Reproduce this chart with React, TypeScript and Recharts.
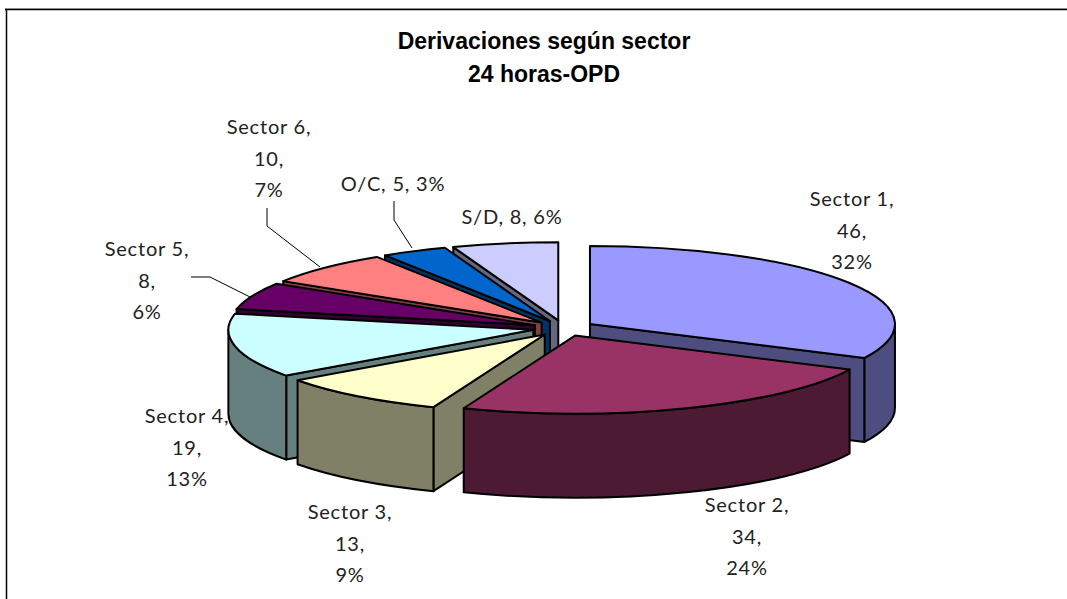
import { PieChart, Pie } from "recharts"

const W = 1067
const H = 599

const names = ["Sector 1", "Sector 2", "Sector 3", "Sector 4", "Sector 5", "Sector 6", "O/C", "S/D"]
const values = [46, 34, 13, 19, 8, 10, 5, 8]
const percents = [32, 24, 9, 13, 6, 7, 3, 6]
const topColors = ["#9999FF", "#993366", "#FFFFCC", "#CCFFFF", "#660066", "#FF8080", "#0066CC", "#CCCCFF"]
const sideColors = ["#4D4D80", "#4D1A33", "#808066", "#668080", "#330033", "#804040", "#003366", "#666680"]
// back to front
const paintOrder = [7, 6, 5, 4, 0, 3, 2, 1]

const data = names.map((name, i) => ({ name, value: values[i] }))

const TILT = 0.256
const DEPTH = 84
const EXPLODE = 31
const rad = (d: number) => (d * Math.PI) / 180

// squashes the sector recharts hands us into a tilted, exploded 3d slice
function slice3d(props: any, index: number) {
  if (props.index !== index) return <g />
  const { cx, cy, outerRadius: r, startAngle, endAngle } = props
  const mid = rad((startAngle + endAngle) / 2)
  const ax = cx + EXPLODE * Math.cos(mid)
  const ay = cy - EXPLODE * Math.sin(mid) * TILT
  const pt = (deg: number, down = 0) =>
    [ax + r * Math.cos(rad(deg)), ay - r * TILT * Math.sin(rad(deg)) + down] as const
  const ry = r * TILT
  const arc = (from: number, to: number, down = 0) => {
    const [x, y] = pt(to, down)
    const large = Math.abs(to - from) > 180 ? 1 : 0
    const sweep = to < from ? 1 : 0
    return `A${r},${ry} 0 ${large} ${sweep} ${x},${y}`
  }
  const [sx, sy] = pt(startAngle)
  const [ex, ey] = pt(endAngle)
  const stroke = { stroke: "#000", strokeWidth: 2, strokeLinejoin: "round" as const }
  const side = sideColors[index]
  const walls = []
  if (sx < ax - 0.5) {
    walls.push(<path key="s" d={`M${ax},${ay}L${sx},${sy}L${sx},${sy + DEPTH}L${ax},${ay + DEPTH}Z`} fill={side} {...stroke} />)
  }
  if (ex > ax + 0.5) {
    walls.push(<path key="e" d={`M${ax},${ay}L${ex},${ey}L${ex},${ey + DEPTH}L${ax},${ay + DEPTH}Z`} fill={side} {...stroke} />)
  }
  // front part of the rim: angles from 0 down to -180
  const a = Math.min(startAngle, 0)
  const b = Math.max(endAngle, -180)
  if (a > b) {
    const [x0, y0] = pt(a)
    const [x1, y1] = pt(b, DEPTH)
    walls.push(
      <path key="rim" d={`M${x0},${y0}${arc(a, b)}L${x1},${y1}${arc(b, a, DEPTH)}Z`} fill={side} {...stroke} />,
    )
  }
  return (
    <g>
      {walls}
      <path d={`M${ax},${ay}L${sx},${sy}${arc(startAngle, endAngle)}Z`} fill={topColors[index]} {...stroke} />
    </g>
  )
}

const labelPos = [
  { x: 852, y: 206 },
  { x: 747, y: 512 },
  { x: 350, y: 519 },
  { x: 187, y: 423 },
  { x: 147, y: 256 },
  { x: 269, y: 134 },
]
const inlinePos = [
  { x: 393, y: 191 },
  { x: 512, y: 224 },
]
const leaderLines = [
  "267,208 267,226 320,267",
  "191,277 210,277 250,297",
  "394,201 394,220 412,248",
]

const labelStyle = { fontFamily: "Lato, sans-serif", fontSize: 20, letterSpacing: 0.8, fill: "#222" }
const titleStyle = { fontFamily: "'Liberation Sans', sans-serif", fontWeight: "bold", fontSize: 23, fill: "#000" }
const LINE = 31.5

export default function App() {
  return (
    <div style={{ position: "absolute", left: 0, top: 0, width: W, height: H, background: "#fff", overflow: "hidden" }}>
      <PieChart width={W} height={H} margin={{ top: 0, right: 0, bottom: 0, left: 0 }}>
        <line x1={5} y1={8.5} x2={W} y2={8.5} stroke="#bbb" strokeWidth={1} />
        <line x1={5} y1={9.5} x2={W} y2={9.5} stroke="#000" strokeWidth={1.5} />
        <line x1={6.5} y1={9} x2={6.5} y2={H} stroke="#000" strokeWidth={1.5} />
        <text x={544} y={49} textAnchor="middle" {...titleStyle}>
          Derivaciones según sector
        </text>
        <text x={544} y={82} textAnchor="middle" {...titleStyle}>
          24 horas-OPD
        </text>
        {paintOrder.map((idx) => (
          <Pie
            key={idx}
            data={data}
            dataKey="value"
            nameKey="name"
            cx={563.7}
            cy={328.2}
            innerRadius={0}
            outerRadius={305}
            startAngle={90}
            endAngle={-270}
            stroke="none"
            isAnimationActive={false}
            labelLine={false}
            legendType="none"
            shape={(p: any) => slice3d(p, idx)}
          />
        ))}
        {leaderLines.map((pts) => (
          <polyline key={pts} points={pts} fill="none" stroke="#000" strokeWidth={1} />
        ))}
        {labelPos.map((p, i) => (
          <text key={names[i]} x={p.x} y={p.y} textAnchor="middle" {...labelStyle}>
            <tspan x={p.x}>{names[i]},</tspan>
            <tspan x={p.x} dy={LINE}>{values[i]},</tspan>
            <tspan x={p.x} dy={LINE}>{percents[i]}%</tspan>
          </text>
        ))}
        {inlinePos.map((p, i) => (
          <text key={names[i + 6]} x={p.x} y={p.y} textAnchor="middle" {...labelStyle}>
            {names[i + 6]}, {values[i + 6]}, {percents[i + 6]}%
          </text>
        ))}
      </PieChart>
    </div>
  )
}
